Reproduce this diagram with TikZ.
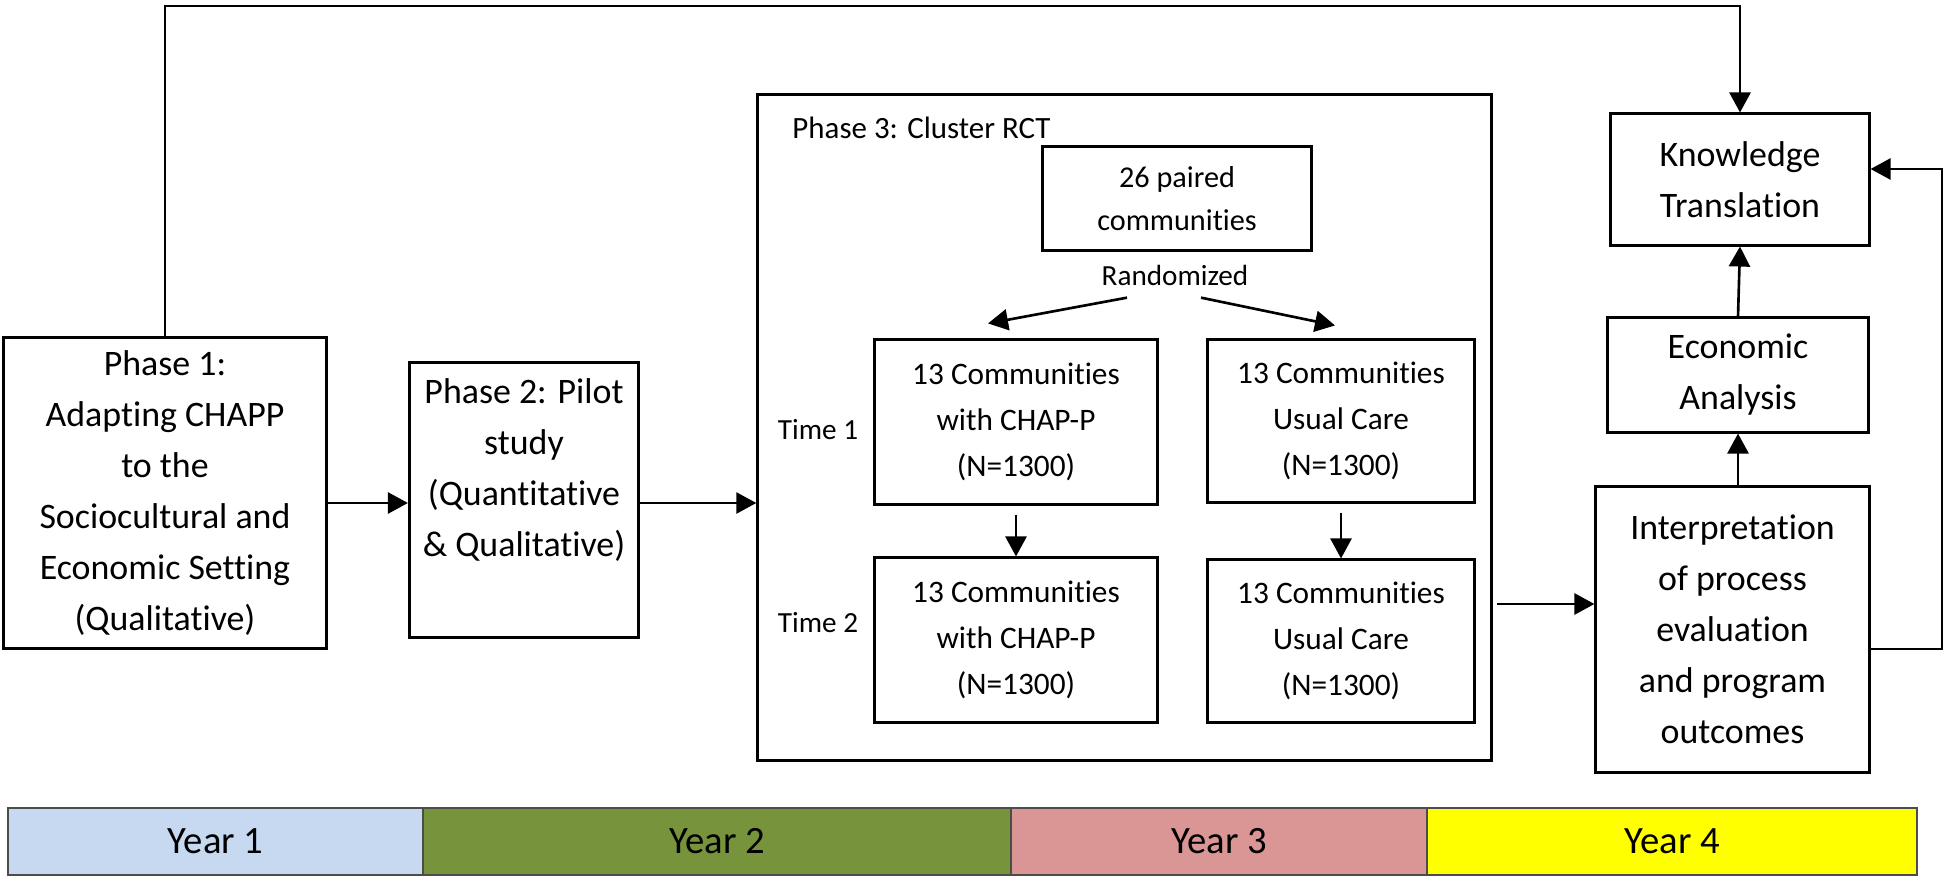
\documentclass[tikz,border=0pt]{standalone}
\usepackage{fontspec}
\setmainfont{Carlito}[Ligatures={NoCommon,NoRare,NoDiscretionary}]
\usepackage{tikz}
\usetikzlibrary{arrows.meta}
\definecolor{yearA}{RGB}{198,217,240}
\definecolor{yearB}{RGB}{119,147,60}
\definecolor{yearC}{RGB}{217,150,148}
\definecolor{yearD}{RGB}{255,255,0}

\begin{document}
\begin{tikzpicture}[x=0.01cm, y=-0.01cm,
    box/.style={draw, line width=0.85pt, align=center, inner sep=0pt},
    arr/.style={-{Triangle[length=0.2cm, width=0.21cm]}, line width=0.75pt},
    bigtxt/.style={font=\fontsize{10.2}{14.5}\selectfont},
    smalltxt/.style={font=\fontsize{8.9}{13.1}\selectfont},
    tinytxt/.style={font=\fontsize{8.3}{10}\selectfont},
    yearbox/.style={draw=black!70, line width=0.5pt, minimum height=0.67cm,
        inner sep=0pt, font=\fontsize{11}{13}\selectfont}]
    \useasboundingbox (0,0) rectangle (1946,879);

    % phases 1 and 2
    \node[box, bigtxt, minimum width=3.22cm, minimum height=3.1cm] (p1) at (165,493)
        {Phase 1:\\Adapting CHAPP\\to the\\Sociocultural and\\Economic Setting\\(Qualitative)};
    \node[box, bigtxt, minimum width=2.29cm, minimum height=2.74cm] (p2) at (524,500)
        {Phase 2: Pilot\\study\\(Quantitative\\\& Qualitative)\\[0.13cm]};

    % phase 3
    \node[box, minimum width=7.33cm, minimum height=6.65cm] (p3) at (1124.5,427.5) {};
    \node[font=\fontsize{8.8}{10}\selectfont, anchor=west] (p3lbl) at (780,128) {Phase 3: Cluster RCT};
    \node[box, font=\fontsize{8.6}{12.2}\selectfont, minimum width=2.68cm, minimum height=1.03cm] (pairs) at (1177,198.5)
        {26 paired\\communities};
    \node[tinytxt] (rand) at (1175,275) {Randomized};
    \node[box, smalltxt, minimum width=2.82cm, minimum height=1.64cm] (t1a) at (1016,422)
        {13 Communities\\with CHAP-P\\(N=1300)};
    \node[box, smalltxt, minimum width=2.82cm, minimum height=1.64cm] (t2a) at (1016,640)
        {13 Communities\\with CHAP-P\\(N=1300)};
    \node[box, smalltxt, minimum width=2.67cm, minimum height=1.62cm] (t1b) at (1341,421)
        {13 Communities\\Usual Care\\(N=1300)};
    \node[box, smalltxt, minimum width=2.67cm, minimum height=1.62cm] (t2b) at (1341,641)
        {13 Communities\\Usual Care\\(N=1300)};
    \node[tinytxt] (time1) at (818,430) {Time 1};
    \node[tinytxt] (time2) at (818,623) {Time 2};

    % right column
    \node[box, bigtxt, minimum width=2.58cm, minimum height=1.31cm] (kt) at (1740,179.5)
        {Knowledge\\Translation};
    \node[box, bigtxt, minimum width=2.6cm, minimum height=1.14cm] (econ) at (1738,375)
        {Economic\\Analysis};
    \node[box, bigtxt, minimum width=2.73cm, minimum height=2.85cm] (interp) at (1732.5,629.5)
        {Interpretation\\of process\\evaluation\\and program\\outcomes};

    % connectors
    \coordinate (top) at (0,6);
    \coordinate (a12) at (0,503);
    \coordinate (p34) at (1497,604);
    \coordinate (fbout) at (1942,649);
    \coordinate (fbin) at (1869,169);
    \draw[arr] (p1.north) -- (p1.north |- top) -| (kt.north);
    \draw[arr] (p1.east |- a12) -- (p2.west |- a12);
    \draw[arr] (p2.east |- a12) -- (p3.west |- a12);
    \draw[arr] ([xshift=-0.48cm]rand.south) -- ([xshift=-0.28cm, yshift=0.15cm]t1a.north);
    \draw[arr] ([xshift=0.26cm]rand.south) -- ([xshift=-0.06cm, yshift=0.13cm]t1b.north);
    \draw[arr] ([yshift=-0.09cm]t1a.south) -- (t2a.north);
    \draw[arr] ([yshift=-0.09cm]t1b.south) -- (t2b.north);
    \draw[arr] (p34) -- (interp.west |- p34);
    \draw[arr] (econ.south |- interp.north) -- (econ.south);
    \draw[arr] (econ.north) -- (kt.south);
    \draw[arr] (interp.east |- fbout) -- (fbout) |- (kt.east |- fbin);

    % years
    \node[yearbox, fill=yearA, minimum width=4.15cm] (y1) at (215.5,841.5) {Year 1};
    \node[yearbox, fill=yearB, minimum width=5.88cm] (y2) at (717,841.5) {Year 2};
    \node[yearbox, fill=yearC, minimum width=4.16cm] (y3) at (1219,841.5) {Year 3};
    \node[yearbox, fill=yearD, minimum width=4.9cm] (y4) at (1672,841.5) {Year 4};
\end{tikzpicture}
\end{document}
